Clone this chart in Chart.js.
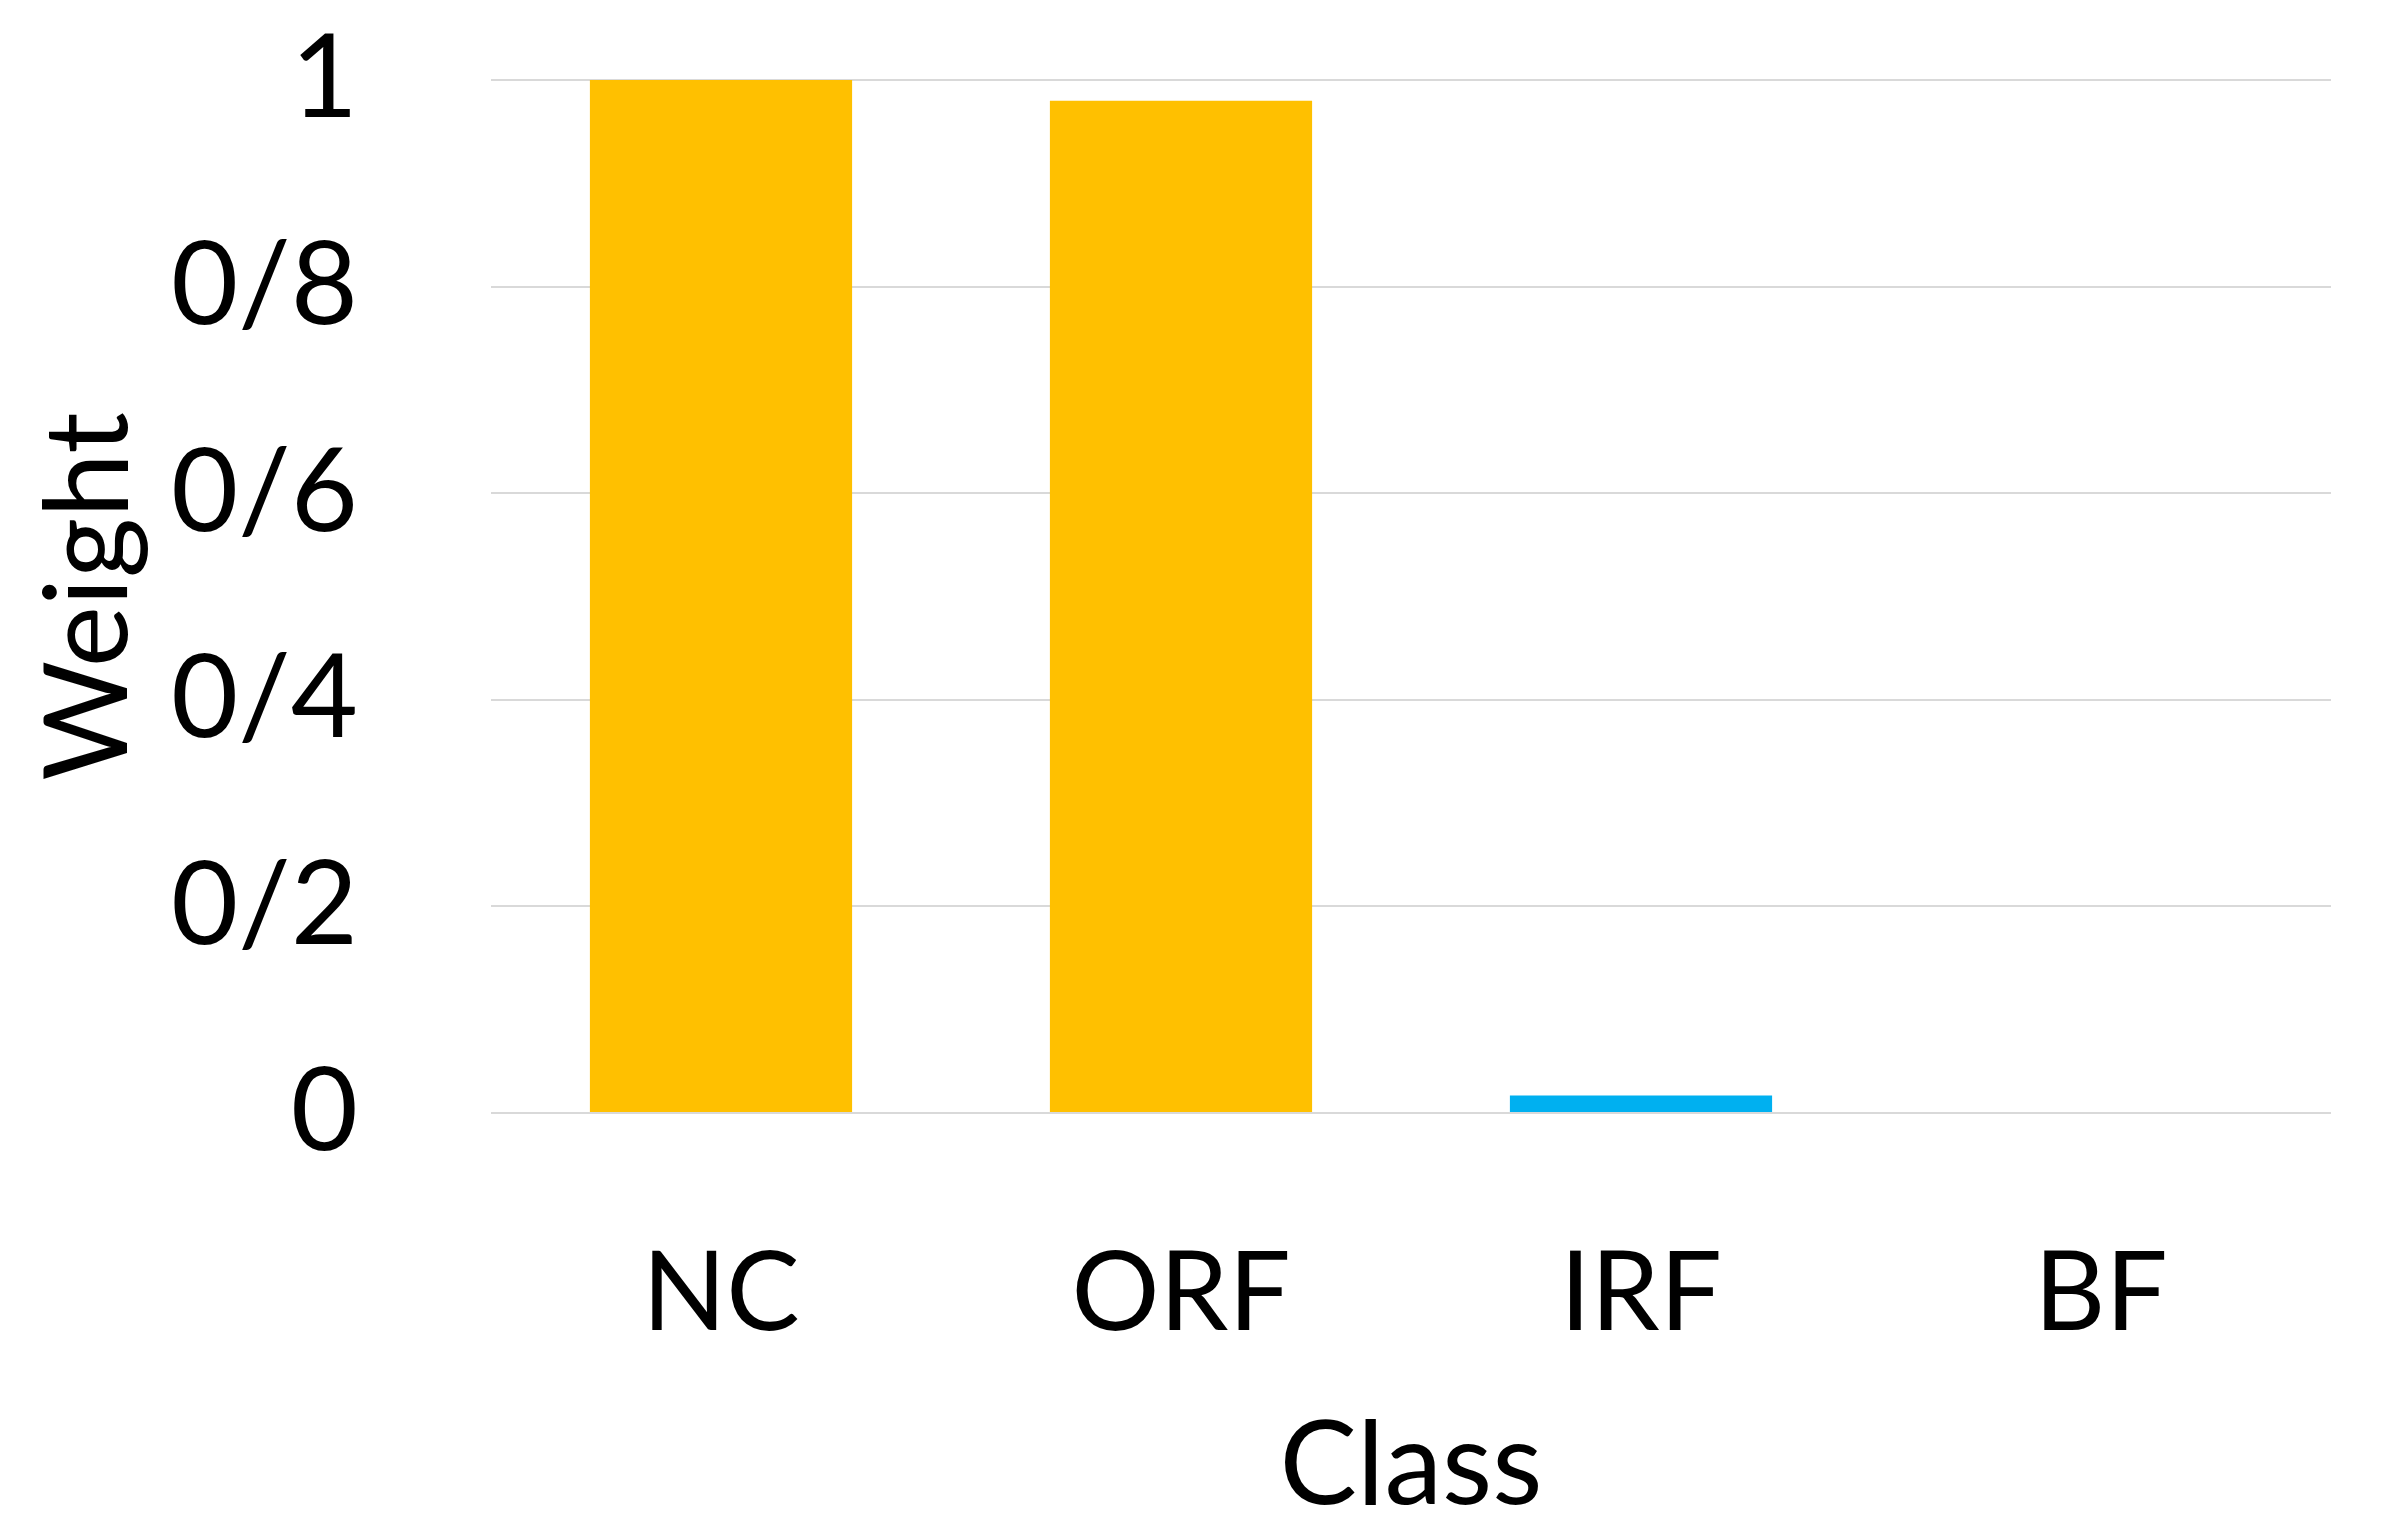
<!DOCTYPE html>
<html>
<head>
<meta charset="utf-8">
<script src="https://cdn.jsdelivr.net/npm/chart.js@4/dist/chart.umd.min.js"></script>
<style>
  html, body { margin: 0; padding: 0; background: #fff; }
  #weightChart { display: block; }
</style>
</head>
<body>
<canvas id="weightChart" width="2392" height="1536"></canvas>
<script>
// class weights
const classes = ["NC", "ORF", "IRF", "BF"];
const weights = [1.0, 0.98, 0.017, 0];
const barColors = ["#FFC000", "#FFC000", "#00B0F0", "#00B0F0"];
const tickValues = [0, 0.2, 0.4, 0.6, 0.8, 1];
const tickLabels = ["0", "0/2", "0/4", "0/6", "0/8", "1"];

const font = "Lato, 'Open Sans', sans-serif";

const data = {
  labels: classes,
  datasets: [
    {
      data: weights,
      backgroundColor: barColors,
      borderWidth: 0,
      barPercentage: 0.57,
      categoryPercentage: 1,
    },
  ],
};

const options = {
  responsive: false,
  animation: false,
  layout: { padding: { top: 0, right: 61, bottom: 0, left: 20 } },
  plugins: {
    legend: { display: false },
    tooltip: { enabled: false },
  },
  scales: {
    x: {
      grid: { display: false, drawTicks: false },
      border: { display: false },
      ticks: {
        color: "#000",
        font: { family: font, size: 110 },
        padding: 116,
      },
      title: {
        display: true,
        text: "Class",
        color: "#000",
        font: { family: font, size: 116 },
        padding: { top: 10, bottom: 0 },
      },
      afterFit: (scale) => { scale.height = 1536 - 1113; },
    },
    y: {
      min: 0,
      max: 1,
      afterBuildTicks: (scale) => {
        scale.ticks = tickValues.map((v) => ({ value: v }));
      },
      grid: { color: "#D9D9D9", lineWidth: 2, drawTicks: false },
      border: { display: false },
      ticks: {
        color: "#000",
        font: { family: font, size: 116 },
        padding: 133,
        callback: (value) => {
          const i = tickValues.findIndex((t) => Math.abs(t - value) < 1e-6);
          return i >= 0 ? tickLabels[i] : "";
        },
      },
      title: {
        display: true,
        text: "Weight",
        color: "#000",
        font: { family: font, size: 116 },
        padding: 0,
      },
      afterFit: (scale) => {
        scale.width = 491 - 20;
        scale.paddingTop = 80;
        scale.paddingBottom = 0;
      },
    },
  },
};

new Chart("weightChart", { type: "bar", data, options });
</script>
</body>
</html>
